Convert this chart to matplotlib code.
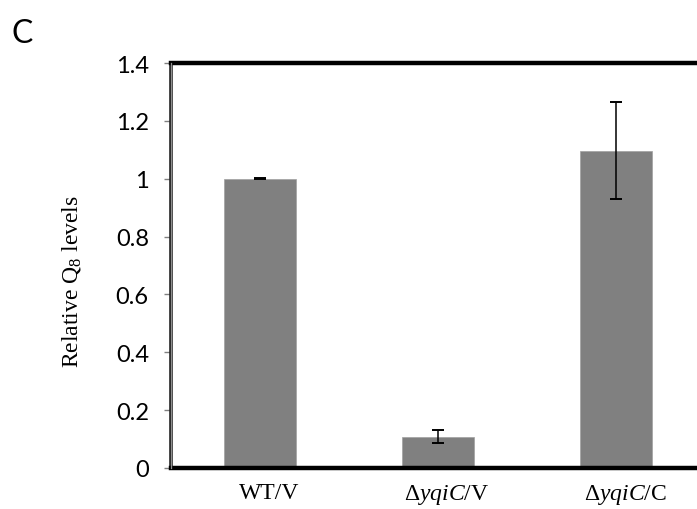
import matplotlib
matplotlib.use("Agg")
import matplotlib.pyplot as plt
import matplotlib.transforms as mtransforms
import numpy as np

plt.rcParams["mathtext.fontset"] = "custom"
plt.rcParams["mathtext.rm"] = "Liberation Serif"
plt.rcParams["mathtext.it"] = "Liberation Serif:italic"

strains = [r"WT/V", r"$\Delta\mathit{yqiC}$/V", r"$\Delta\mathit{yqiC}$/C"]
q8_mean = [1.0, 0.108, 1.097]
q8_err = [0.002, 0.023, 0.167]
yticks = [0, 0.2, 0.4, 0.6, 0.8, 1.0, 1.2, 1.4]
ytick_labels = ["0", "0.2", "0.4", "0.6", "0.8", "1", "1.2", "1.4"]

BAR_C = "#808080"

fig = plt.figure(figsize=(6.97, 5.10), dpi=100)
ax = fig.add_axes([0.2453, 0.0804, 0.7547, 0.7941])

x = np.arange(len(strains))
ax.bar(x, q8_mean, 0.4, color=BAR_C, edgecolor="#a0a0a0", linewidth=0.5, zorder=2)
ax.errorbar(x, q8_mean, yerr=q8_err, fmt="none", ecolor="black",
            elinewidth=1.1, capsize=4.5, capthick=1.4, zorder=3)

ax.set_xlim(-0.5, 2.455)
ax.set_ylim(0, 1.4)
ax.set_yticks(yticks)
ax.set_yticklabels(ytick_labels, fontsize=17, family="Lato")
ax.tick_params(axis="y", length=5, width=1, color="#808080", pad=11)
ax.set_xticks(x)
ax.set_xticklabels(strains, fontsize=17, family="Liberation Serif")
ax.tick_params(axis="x", length=0, pad=10)
# category labels sit a little right of the bar centres
shift = mtransforms.ScaledTranslation(9 / 100, 0, fig.dpi_scale_trans)
for lbl in ax.get_xticklabels():
    lbl.set_transform(lbl.get_transform() + shift)

ax.spines["right"].set_visible(False)
for side in ("top", "bottom"):
    ax.spines[side].set_color("black")
    ax.spines[side].set_linewidth(3.2)
# left axis: grey line with dark edges
ax.spines["left"].set_color("#202020")
ax.spines["left"].set_linewidth(2.6)
ax.axvline(-0.5, color="#909090", lw=0.9, zorder=4, clip_on=False)

fig.text(0.103, 0.447, r"Relative Q$_{\mathregular{8}}$ levels", rotation=90,
         ha="center", va="center", fontsize=17, family="Liberation Serif")
fig.text(0.017, 0.962, "C", fontsize=23, family="Lato", va="top", ha="left")

fig.savefig("out.png", dpi=100)
